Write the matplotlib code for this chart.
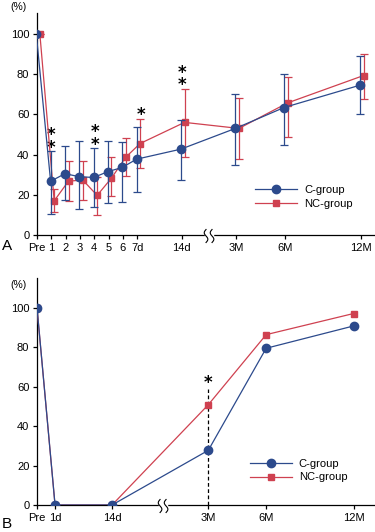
import numpy as np
import matplotlib
matplotlib.use('Agg')
import matplotlib.pyplot as plt
import matplotlib.transforms as mtransforms
from matplotlib.lines import Line2D

plt.rcParams['font.family'] = ['Liberation Sans', 'DejaVu Sans']

BLUE = '#2c4a8c'
RED = '#cf4150'

# panel A
labels_a = ['Pre', '1', '2', '3', '4', '5', '6', '7d', '14d', '3M', '6M', '12M']
pos_a = [0, 1, 2, 3, 4, 5, 6, 7, 10.1, 13.9, 17.3, 22.6]
c_a = [100, 26.7, 30.5, 29, 28.6, 31.5, 33.6, 37.7, 42.7, 53, 63.4, 74.5]
c_a_lo = [100, 10.3, 17.4, 13, 14, 16, 16.5, 21.5, 27.3, 34.8, 45, 60]
c_a_hi = [100, 41.9, 44.2, 46.7, 43.5, 46.7, 46.4, 53.6, 57, 70, 80, 88.9]
nc_a = [100, 17, 26.8, 27.3, 19.7, 28.3, 38.7, 45.5, 56, 53, 65.7, 79.3]
nc_a_lo = [100, 11.3, 17, 17.4, 10, 19.5, 29.3, 33.4, 39, 37.6, 48.5, 67.4]
nc_a_hi = [100, 23, 36.8, 36.8, 29, 39, 48.3, 57.6, 72.8, 67.9, 78.6, 90.2]
stars_a = [(0.98, 2), (4.06, 2), (7.27, 1), (10.14, 2)]
star_base_a = [39, 40.5, 55, 70]

# panel B
labels_b = ['Pre', '1d', '14d', '3M', '6M', '12M']
pos_b = [0, 1.26, 5.24, 11.96, 16.0, 22.1]
c_b = [100, 0, 0, 27.7, 79.4, 90.7]
nc_b = [100, 0, 0, 50.8, 86.3, 97]


def style_axes(ax, ytop):
    ax.spines['top'].set_visible(False)
    ax.spines['right'].set_visible(False)
    for s in ['left', 'bottom']:
        ax.spines[s].set_linewidth(0.9)
    ax.set_ylim(0, ytop)
    ax.set_xlim(0, 23.6)
    ax.set_yticks([0, 20, 40, 60, 80, 100])
    ax.tick_params(length=3, width=0.9, labelsize=8, pad=2.5)
    ax.spines['left'].set_zorder(0)


def draw_break(ax, fig, xa):
    trans = fig.dpi_scale_trans + mtransforms.ScaledTranslation(xa, 0, ax.transAxes)
    ax.plot([-0.03, 0.03], [0, 0], color='white', lw=2.5, transform=trans,
            clip_on=False, zorder=5)
    t = np.linspace(-1, 1, 40)
    for dx in (-0.03, 0.03):
        x = dx + 0.018 * np.sin(np.pi * t)
        y = -0.065 * t - 0.01
        ax.plot(x, y, color='black', lw=0.8, transform=trans, clip_on=False, zorder=6)


def add_legend(ax, anchor):
    handles = [Line2D([], [], color=BLUE, lw=0.9, marker='o', ms=6),
               Line2D([], [], color=RED, lw=0.9, marker='s', ms=5)]
    ax.legend(handles, ['C-group', 'NC-group'], loc='center left',
              bbox_to_anchor=anchor, frameon=False, fontsize=8,
              handlelength=3.8, handletextpad=0.6, borderpad=0,
              borderaxespad=0, labelspacing=0.35)


fig = plt.figure(figsize=(3.75, 5.32), dpi=100)
ax1 = fig.add_axes([37 / 375, 297 / 532, 338 / 375, 222 / 532])
ax2 = fig.add_axes([37 / 375, 27 / 532, 338 / 375, 227 / 532])

# --- A
style_axes(ax1, 110.4)
pa = np.array(pos_a)
ca = np.array(c_a)
na = np.array(nc_a)
ax1.errorbar(pa + 0.2, na, yerr=[na - np.array(nc_a_lo), np.array(nc_a_hi) - na],
             color=RED, lw=0.9, capsize=3, capthick=0.9, marker='s', ms=5, zorder=3)
ax1.errorbar(pa - 0.05, ca, yerr=[ca - np.array(c_a_lo), np.array(c_a_hi) - ca],
             color=BLUE, lw=0.9, capsize=3, capthick=0.9, marker='o', ms=6, zorder=4)
ax1.set_xticks(pos_a)
ax1.set_xticklabels(labels_a)
for (sx, n), base in zip(stars_a, star_base_a):
    ax1.text(sx, base, '\n'.join(['*'] * n), ha='center', va='bottom', fontsize=12,
             family='DejaVu Sans', fontweight='bold', linespacing=0.62)
add_legend(ax1, (0.645, 0.173))
draw_break(ax1, fig, 0.509)

# --- B
style_axes(ax2, 115)
ax2.plot(pos_b, nc_b, color=RED, lw=0.9, marker='s', ms=5, zorder=3)
ax2.plot(pos_b, c_b, color=BLUE, lw=0.9, marker='o', ms=6, zorder=4)
ax2.plot([pos_b[3], pos_b[3]], [0, 59], color='black', lw=0.9, ls=(0, (3, 2)), zorder=2)
ax2.text(pos_b[3], 57, '*', ha='center', va='bottom', fontsize=12,
         family='DejaVu Sans', fontweight='bold')
ax2.set_xticks(pos_b)
ax2.set_xticklabels(labels_b)
add_legend(ax2, (0.63, 0.152))
draw_break(ax2, fig, 0.373)

fig.text(10 / 375, 1 - 7 / 532, '(%)', fontsize=7.5, va='center', ha='left')
fig.text(10 / 375, 1 - 285 / 532, '(%)', fontsize=7.5, va='center', ha='left')
fig.text(2 / 375, 1 - 246 / 532, 'A', fontsize=11, va='center', ha='left')
fig.text(2 / 375, 1 - 524 / 532, 'B', fontsize=11, va='center', ha='left')

fig.savefig('out.png', dpi=100)
